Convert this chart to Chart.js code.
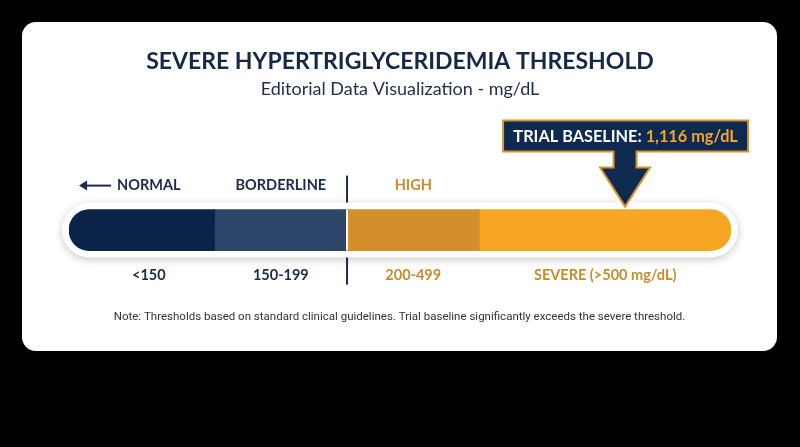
<!DOCTYPE html>
<html>
<head>
<meta charset="utf-8">
<script src="https://cdn.jsdelivr.net/npm/chart.js@4"></script>
<style>
html, body { margin:0; padding:0; background:#000; width:800px; height:447px; overflow:hidden; }
#card { position:absolute; left:22px; top:22px; width:755px; height:329px; background:#fff; border-radius:14px; }
#chart { display:block; }
</style>
</head>
<body>
<div id="card"><canvas id="chart" width="755" height="329"></canvas></div>
<script>
/****** data ****************************/
var categories    = ["NORMAL", "BORDERLINE", "HIGH", "SEVERE"];
var topLabels     = ["NORMAL", "BORDERLINE", "HIGH", ""];
var rangeLabels   = ["<150", "150-199", "200-499", "SEVERE (>500 mg/dL)"];
var segmentWidth  = [22, 20, 20, 38];   // share of the bar (0-100)
var baselineText  = "1,116 mg/dL";
var baselinePos   = 84;                 // where the arrow lands on the bar (0-100)

/****** styles *******/
var segColors  = ["#0c2349", "#2c4569", "#d28f2b", "#f6a623"];
var textColors = ["#1b2b4b", "#1b2b4b", "#c98a2b", "#c98a2b"];
var navy       = "#1b2b4b";
var orange     = "#f4a62a";

var R = 21;

function cumStarts(){
	var out = [], s = 0;
	for (var i = 0; i < segmentWidth.length; i++){ out.push(s); s += segmentWidth[i]; }
	out.push(s);
	return out;
}

var decor = {
	id: 'decor',
	beforeDatasetsDraw: function(chart){
		var ctx = chart.ctx, x = chart.scales.x;
		var bar = chart.getDatasetMeta(0).data[0];
		var yc = bar.y;
		var cs = cumStarts();
		var left = x.getPixelForValue(0), right = x.getPixelForValue(100);
		var div = x.getPixelForValue(cs[2]);

		ctx.save();
		// divider line
		ctx.strokeStyle = navy;
		ctx.lineWidth = 2;
		ctx.beginPath();
		ctx.moveTo(div, yc - 54.5);
		ctx.lineTo(div, yc + 54.5);
		ctx.stroke();
		// white outline with soft shadow
		ctx.shadowColor = "rgba(0,0,0,0.22)";
		ctx.shadowBlur = 9;
		ctx.shadowOffsetY = 2;
		ctx.fillStyle = "#fff";
		ctx.beginPath();
		ctx.roundRect(left - 7, yc - 27.5, right - left + 14, 55, 27.5);
		ctx.fill();
		ctx.restore();
	},
	afterDatasetsDraw: function(chart){
		var ctx = chart.ctx, x = chart.scales.x;
		var bar = chart.getDatasetMeta(0).data[0];
		var yc = bar.y, h = bar.height;
		var cs = cumStarts();
		var div = x.getPixelForValue(cs[2]);

		ctx.save();
		// white gap between borderline and high
		ctx.strokeStyle = "#fff";
		ctx.lineWidth = 2;
		ctx.beginPath();
		ctx.moveTo(div, yc - h/2);
		ctx.lineTo(div, yc + h/2);
		ctx.stroke();

		// labels above and below
		ctx.font = "bold 14.5px Lato";
		ctx.textAlign = "center";
		ctx.textBaseline = "middle";
		for (var i = 0; i < categories.length; i++){
			var x0 = x.getPixelForValue(cs[i]), x1 = x.getPixelForValue(cs[i+1]);
			var cx = (x0 + x1) / 2;
			if (i == 0) cx += 7;
			ctx.fillStyle = textColors[i];
			if (topLabels[i]) ctx.fillText(topLabels[i], cx, yc - 44.5);
			ctx.fillText(rangeLabels[i], cx, yc + 45.5);
			if (i == 0){
				var w = ctx.measureText(topLabels[0]).width;
				var ax = cx - w/2 - 6, ay = yc - 44.5;
				ctx.strokeStyle = navy;
				ctx.lineWidth = 2;
				ctx.beginPath();
				ctx.moveTo(ax, ay);
				ctx.lineTo(ax - 27, ay);
				ctx.stroke();
				ctx.fillStyle = navy;
				ctx.beginPath();
				ctx.moveTo(ax - 32, ay);
				ctx.lineTo(ax - 24, ay - 5);
				ctx.lineTo(ax - 24, ay + 5);
				ctx.closePath();
				ctx.fill();
			}
		}

		// callout box + arrow
		var tx = x.getPixelForValue(baselinePos), ty = yc - 23.5;
		var headTop = ty - 39, boxBot = ty - 55, boxTop = boxBot - 31;
		var bl = tx - 122, br = tx + 123;
		ctx.beginPath();
		ctx.moveTo(bl, boxTop);
		ctx.lineTo(br, boxTop);
		ctx.lineTo(br, boxBot);
		ctx.lineTo(tx + 11.5, boxBot);
		ctx.lineTo(tx + 11.5, headTop);
		ctx.lineTo(tx + 25, headTop);
		ctx.lineTo(tx, ty);
		ctx.lineTo(tx - 25, headTop);
		ctx.lineTo(tx - 11.5, headTop);
		ctx.lineTo(tx - 11.5, boxBot);
		ctx.lineTo(bl, boxBot);
		ctx.closePath();
		ctx.fillStyle = "#0f2a50";
		ctx.fill();
		ctx.strokeStyle = "#d8922e";
		ctx.lineWidth = 2;
		ctx.lineJoin = "miter";
		ctx.stroke();

		ctx.font = "bold 16.3px Lato";
		ctx.textAlign = "left";
		var lead = "TRIAL BASELINE: ";
		var w1 = ctx.measureText(lead).width, w2 = ctx.measureText(baselineText).width;
		var sx = (bl + br)/2 - (w1 + w2)/2, sy = (boxTop + boxBot)/2 + 1;
		ctx.fillStyle = "#fff";
		ctx.fillText(lead, sx, sy);
		ctx.fillStyle = orange;
		ctx.fillText(baselineText, sx + w1, sy);

		// note
		ctx.font = "11.5px Roboto";
		ctx.textAlign = "center";
		ctx.fillStyle = "#333";
		ctx.fillText("Note: Thresholds based on standard clinical guidelines. Trial baseline significantly exceeds the severe threshold.",
			chart.width/2, yc + 87.5);
		ctx.restore();
	}
};

var datasets = categories.map(function(c, i){
	var rad = 0;
	if (i == 0) rad = {topLeft:R, bottomLeft:R, topRight:0, bottomRight:0};
	if (i == categories.length - 1) rad = {topLeft:0, bottomLeft:0, topRight:R, bottomRight:R};
	return {
		label: c,
		data: [segmentWidth[i]],
		backgroundColor: segColors[i],
		barThickness: 41,
		borderSkipped: false,
		borderRadius: rad
	};
});

var chart = new Chart(document.getElementById('chart'), {
	type: 'bar',
	data: { labels: [""], datasets: datasets },
	options: {
		indexAxis: 'y',
		responsive: false,
		animation: false,
		layout: { padding: { left: 47, right: 46, top: 0, bottom: 47 } },
		scales: {
			x: { stacked: true, min: 0, max: 100, display: false },
			y: { stacked: true, display: false }
		},
		plugins: {
			legend: { display: false },
			tooltip: { enabled: false },
			title: {
				display: true,
				text: "SEVERE HYPERTRIGLYCERIDEMIA THRESHOLD",
				color: "#14284a",
				font: { family: "Lato", size: 23, weight: "bold" },
				padding: { top: 26, bottom: 3 }
			},
			subtitle: {
				display: true,
				text: "Editorial Data Visualization - mg/dL",
				color: "#1e2d4a",
				font: { family: "Lato", size: 18 },
				padding: { top: 0, bottom: 56 }
			}
		}
	},
	plugins: [decor]
});
</script>
</body>
</html>
